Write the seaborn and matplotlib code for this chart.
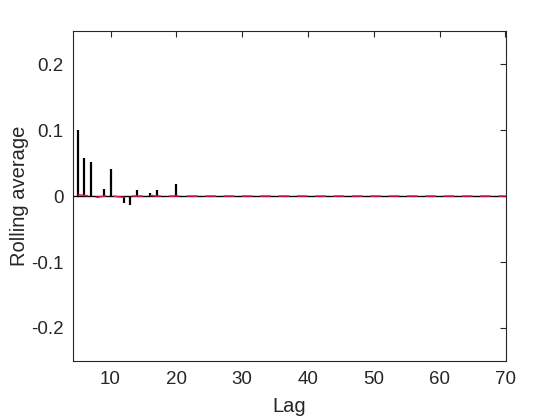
import numpy as np
import pandas as pd
import matplotlib
matplotlib.use('Agg')
import matplotlib.pyplot as plt
import seaborn as sns

# lags and rolling-average values
lags = list(range(5, 71))
stem_vals = [0.100, 0.057, 0.052, 0.0, 0.010, 0.041, 0.0, -0.010, -0.013, 0.009,
             0.0, 0.005, 0.009, 0.0, 0.0, 0.018] + [0.0] * 50
red_vals = [0.002, 0.001, 0.0, -0.002, 0.0, 0.001, -0.001, -0.002, 0.0, 0.0,
            0.0, 0.001, 0.0, 0.0, 0.0, 0.0] + [0.0] * 50

xticks = [10, 20, 30, 40, 50, 60, 70]
yticks = [-0.2, -0.1, 0, 0.1, 0.2]
ytick_labels = ['-0.2', '-0.1', '0', '0.1', '0.2']

df = pd.DataFrame({'Lag': lags, 'stem': stem_vals, 'red': red_vals})

sns.set_style('white')
plt.rcParams['font.family'] = ['Liberation Sans', 'DejaVu Sans']

fig = plt.figure(figsize=(5.6, 4.2), dpi=100)
ax = fig.add_axes([0.1304, 0.1405, 0.7732, 0.7855])

# baseline + stems
ax.axhline(0, color='black', lw=1.0, zorder=2)
ax.vlines(df['Lag'], 0, df['stem'], color='black', lw=1.6, zorder=3)
sns.lineplot(data=df, x='Lag', y='red', color='#e8194a', lw=1.1,
             linestyle=(0, (7, 5)), ax=ax, zorder=4)

ax.set_xlim(4.3, 70.1)
ax.set_ylim(-0.25, 0.25)
ax.set_xticks(xticks)
ax.set_yticks(yticks)
ax.set_yticklabels(ytick_labels)
ax.tick_params(direction='in', length=4, width=0.8, colors='#262626',
               labelsize=13.5, top=True, right=True, pad=7)
for s in ax.spines.values():
    s.set_color('#262626')
    s.set_linewidth(0.8)
ax.set_xlabel('Lag', fontsize=14.5, color='#262626', labelpad=7)
ax.set_ylabel('Rolling average', fontsize=14.5, color='#262626', labelpad=1)

plt.savefig('out.png', dpi=100)
plt.close()
